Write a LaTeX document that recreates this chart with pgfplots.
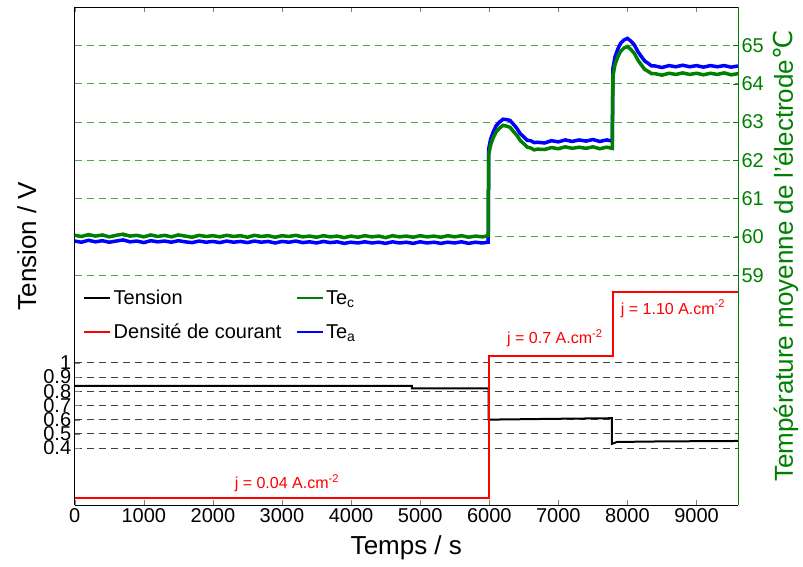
\documentclass[border=0pt]{standalone}
\usepackage{fontspec}
\setmainfont{Liberation Sans}
\newfontfamily\dejavu{DejaVu Sans}
\usepackage{pgfplots}
\pgfplotsset{compat=1.18}
\definecolor{mgreen}{rgb}{0,0.5,0}
\definecolor{ggrid}{rgb}{0.3,0.65,0.3}
\pgfplotstableread{
t v
0 0.837
4880 0.837
4880 0.82
5990 0.82
5990 0.60
6500 0.603
7000 0.606
7775 0.61
7775 0.43
7850 0.443
8500 0.447
9600 0.45
}\tension
\pgfplotstableread{
t j
0 0.047
5990 0.047
5990 1.045
7790 1.045
7790 1.50
9600 1.50
}\courant
\pgfplotstableread{
t T
0 59.89
100 59.86
200 59.91
300 59.87
400 59.90
500 59.86
600 59.89
700 59.92
800 59.87
900 59.89
1000 59.85
1100 59.90
1200 59.87
1300 59.89
1400 59.86
1500 59.90
1600 59.87
1700 59.85
1800 59.89
1900 59.86
2000 59.88
2100 59.85
2200 59.89
2300 59.86
2400 59.88
2500 59.85
2600 59.89
2700 59.86
2800 59.88
2900 59.84
3000 59.88
3100 59.86
3200 59.89
3300 59.85
3400 59.87
3500 59.84
3600 59.88
3700 59.85
3800 59.87
3900 59.83
4000 59.86
4100 59.84
4200 59.87
4300 59.84
4400 59.86
4500 59.83
4600 59.87
4700 59.84
4800 59.86
4900 59.83
5000 59.87
5100 59.84
5200 59.86
5300 59.83
5400 59.86
5500 59.84
5600 59.87
5700 59.83
5800 59.86
5900 59.84
5985 59.86
5992 62.30
6020 62.55
6060 62.75
6100 62.90
6150 63.00
6200 63.07
6250 63.06
6300 63.04
6350 62.94
6400 62.83
6450 62.69
6500 62.61
6550 62.52
6600 62.51
6650 62.46
6700 62.47
6800 62.45
6900 62.51
7000 62.48
7100 62.53
7200 62.49
7300 62.53
7400 62.50
7500 62.54
7600 62.49
7700 62.53
7780 62.50
7790 64.40
7820 64.70
7860 64.90
7900 65.05
7950 65.14
8000 65.18
8050 65.11
8100 65.01
8150 64.84
8200 64.71
8250 64.59
8300 64.53
8350 64.46
8400 64.46
8500 64.42
8600 64.47
8700 64.44
8800 64.48
8900 64.44
9000 64.47
9100 64.43
9200 64.47
9300 64.44
9400 64.47
9500 64.43
9600 64.46
}\tea
\pgfplotstableread{
t T
0 60.04
100 60.01
200 60.06
300 60.02
400 60.05
500 60.00
600 60.04
700 60.07
800 60.02
900 60.04
1000 60.00
1100 60.05
1200 60.01
1300 60.04
1400 60.00
1500 60.05
1600 60.02
1700 59.99
1800 60.04
1900 60.01
2000 60.03
2100 60.00
2200 60.04
2300 60.01
2400 60.03
2500 59.99
2600 60.04
2700 60.01
2800 60.03
2900 59.99
3000 60.03
3100 60.01
3200 60.04
3300 60.00
3400 60.02
3500 59.99
3600 60.03
3700 60.00
3800 60.02
3900 59.98
4000 60.02
4100 59.99
4200 60.03
4300 60.00
4400 60.02
4500 59.98
4600 60.03
4700 60.00
4800 60.02
4900 59.99
5000 60.03
5100 60.00
5200 60.02
5300 59.99
5400 60.03
5500 60.00
5600 60.03
5700 59.99
5800 60.02
5900 60.00
5985 60.03
5992 62.15
6020 62.40
6060 62.60
6100 62.74
6150 62.84
6200 62.91
6250 62.89
6300 62.86
6350 62.75
6400 62.65
6450 62.51
6500 62.43
6550 62.34
6600 62.32
6650 62.27
6700 62.29
6800 62.28
6900 62.33
7000 62.30
7100 62.35
7200 62.31
7300 62.34
7400 62.31
7500 62.35
7600 62.30
7700 62.34
7780 62.31
7790 64.20
7820 64.50
7860 64.70
7900 64.84
7950 64.93
8000 64.97
8050 64.89
8100 64.79
8150 64.62
8200 64.49
8250 64.37
8300 64.32
8350 64.26
8400 64.26
8500 64.22
8600 64.27
8700 64.24
8800 64.28
8900 64.24
9000 64.27
9100 64.23
9200 64.27
9300 64.24
9400 64.28
9500 64.23
9600 64.26
}\tec
\begin{document}
\begin{tikzpicture}
\useasboundingbox (-74.7pt,-61pt) rectangle (728.3pt,505pt);
\pgfplotsset{
  common/.style={
    scale only axis, width=663.3pt, height=498pt,
    at={(0,0)}, anchor=south west,
    xmin=0, xmax=9600,
    tick align=inside,
    /pgf/number format/assume math mode=true,
    tick label style={font=\fontsize{20}{24}\selectfont},
    label style={font=\fontsize{26}{30}\selectfont},
  }
}
\begin{axis}[common,
  ymin=0, ymax=3.5,
  axis y line*=left,
  xtick={0,1000,...,9000},
  xticklabel style={/pgf/number format/1000 sep={}},
  scaled x ticks=false,
  ytick={0.4,0.5,0.6,0.7,0.8,0.9,1},
  yticklabels={0.4,0.5,0.6,0.7,0.8,0.9,1},
  ymajorgrids,
  major grid style={black!75, dash pattern=on 7pt off 5pt, line width=0.8pt},
  axis line style={black, line width=1pt},
  major tick length=5pt,
  xlabel={Temps / s},
  ylabel={Tension / V},
  xlabel style={yshift=-6pt},
  ylabel style={at={(ticklabel cs:0.52)}},
]
\addplot[black, line width=2pt] table[x=t,y=v] {\tension};
\addplot[red, line width=2pt] table[x=t,y=j] {\courant};
\node[red, font=\fontsize{16}{18}\selectfont] at (axis cs:3072,0.155) {j = 0.04 A.cm\textsuperscript{-2}};
\node[red, font=\fontsize{16}{18}\selectfont] at (axis cs:6950,1.17) {j = 0.7 A.cm\textsuperscript{-2}};
\node[red, font=\fontsize{16}{18}\selectfont] at (axis cs:8660,1.38) {j = 1.10 A.cm\textsuperscript{-2}};
\end{axis}
\begin{axis}[common,
  ymin=53, ymax=66,
  axis y line*=right,
  axis x line=none,
  ytick={59,60,...,65},
  ymajorgrids,
  major grid style={ggrid, dash pattern=on 7pt off 5pt, line width=0.8pt},
  y axis line style={mgreen, line width=1pt},
  yticklabel style={mgreen},
  ytick style={mgreen},
  major tick length=5pt,
  ylabel={\color{mgreen}Température moyenne de l'électrode{\dejavu ℃}},
  ylabel style={yshift=-3pt},
  legend columns=2,
  legend style={at={(0.008,0.44)}, anchor=north west, draw=none, fill=none,
    font=\fontsize{20}{24}\selectfont, column sep=12pt, row sep=14pt,
    /tikz/every odd column/.style={column sep=0pt}},
  legend cell align=left,
  legend image code/.code={\draw[#1, line width=2.5pt] (0pt,0pt) -- (26pt,0pt);},
]
\addplot[blue, line width=3.5pt, forget plot] table[x=t,y=T] {\tea};
\addplot[mgreen, line width=3.5pt, forget plot] table[x=t,y=T] {\tec};
\addlegendimage{black}
\addlegendentry{Tension}
\addlegendimage{mgreen}
\addlegendentry{Te\textsubscript{c}}
\addlegendimage{red}
\addlegendentry{Densité de courant}
\addlegendimage{blue}
\addlegendentry{Te\textsubscript{a}}
\end{axis}
\end{tikzpicture}
\end{document}
